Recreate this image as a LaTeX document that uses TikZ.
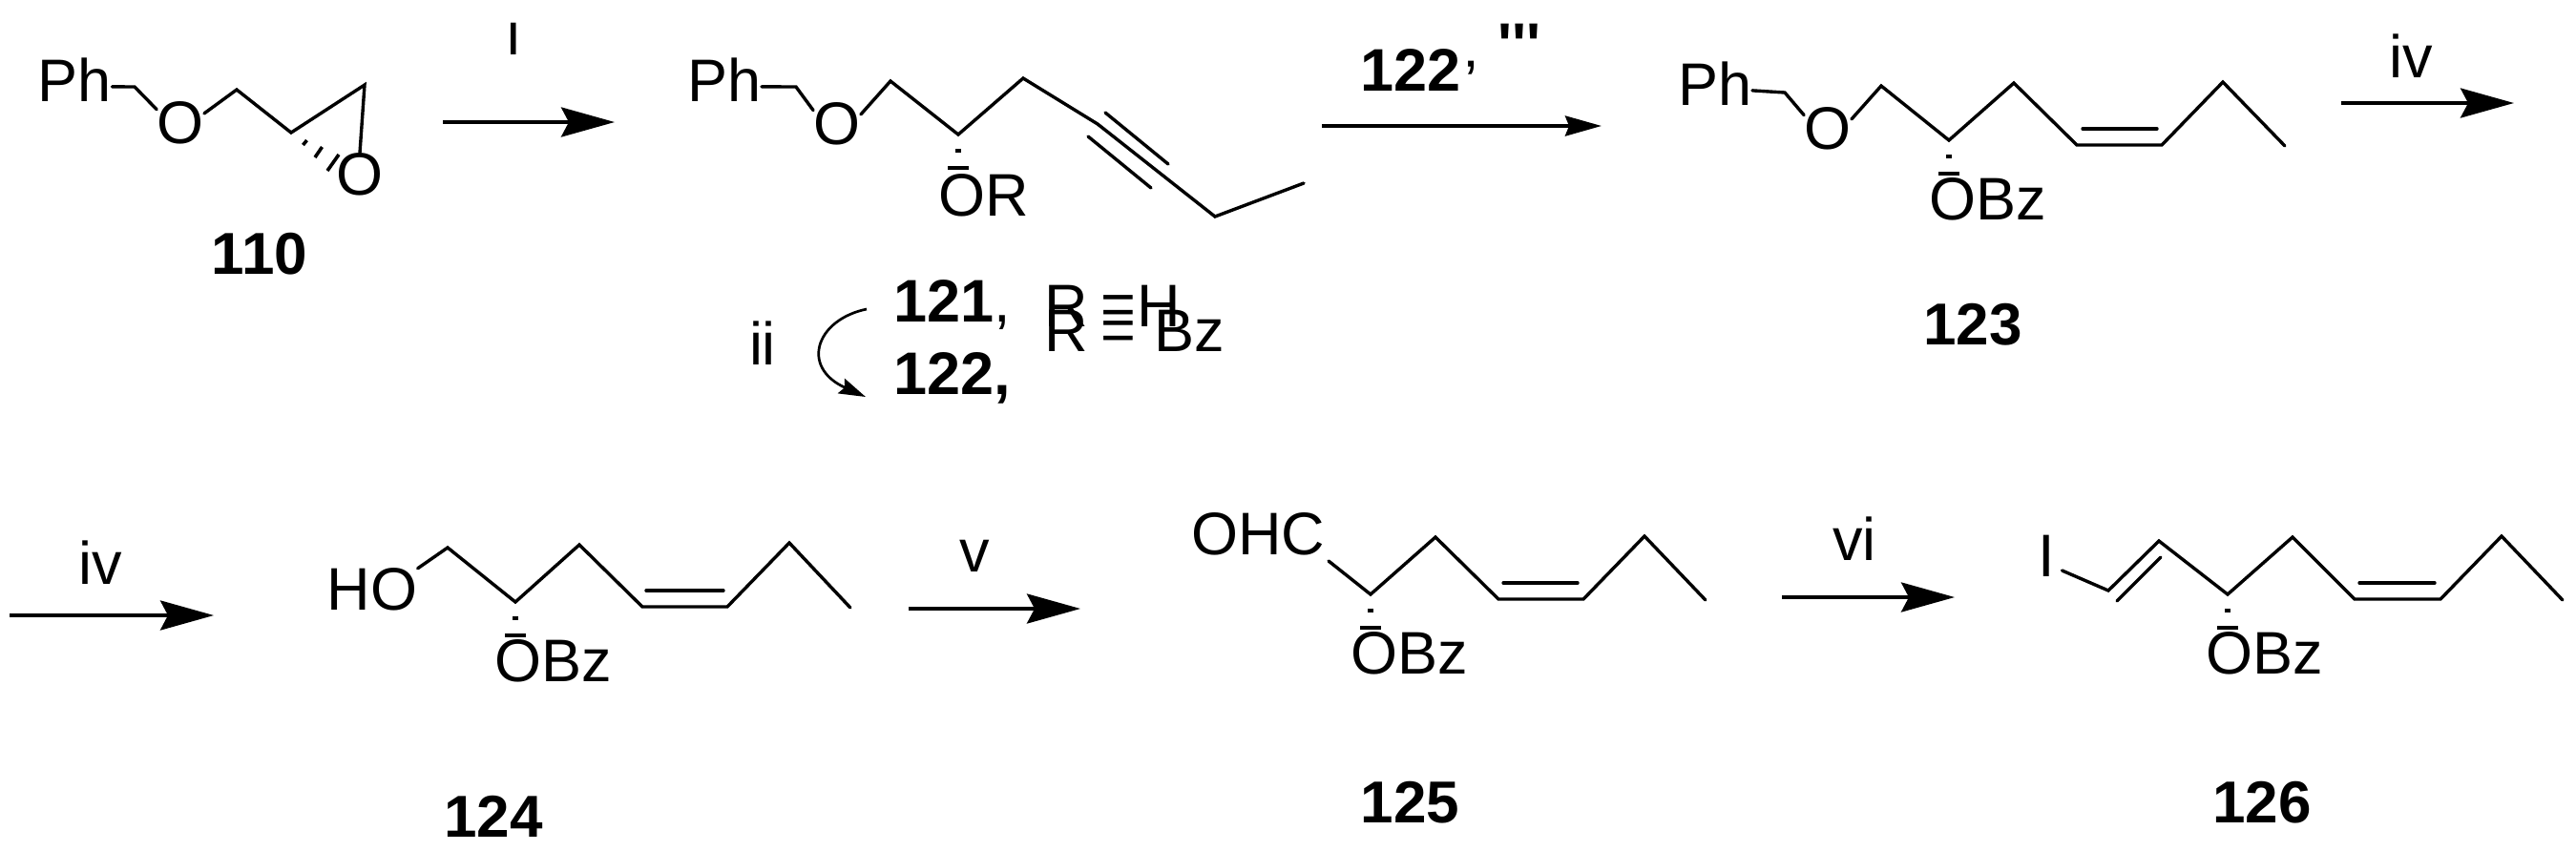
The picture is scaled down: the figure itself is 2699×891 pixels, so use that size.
\documentclass[tikz,border=0pt]{standalone}
\usepackage{fontspec}
\setmainfont{Liberation Sans}
\newfontfamily\rawfont{Liberation Sans}[Ligatures=Discretionary]
\usetikzlibrary{arrows.meta}
\tikzset{
  lab/.style={inner sep=0pt,font=\fontsize{31.5}{36}\selectfont},
  num/.style={inner sep=0pt,font=\fontsize{31}{36}\selectfont\bfseries},
  bond/.style={line width=1.7pt,line cap=round,line join=miter},
  hashbar/.style={line width=1.8pt},
  bigarrow/.style={line width=1.9pt,-{Stealth[length=28pt,width=15.5pt,inset=4pt]}},
  thinarrow/.style={line width=1.9pt,-{Stealth[length=19pt,width=10.5pt,inset=2pt]}},
  curlarrow/.style={line width=1.35pt,-{Stealth[length=14pt,width=8.5pt,inset=2pt]}},
}
\newcommand{\hashw}[1]{%
  \draw[hashbar] (#1) ++(-3,17) -- ++(6,0);
  \draw[hashbar] (#1) ++(-11,35) -- ++(22,0);
}
\begin{document}
\begin{tikzpicture}[x=0.5pt,y=-0.5pt]
\useasboundingbox (0,0) rectangle (2699,891);
\fill[white] (0,0) rectangle (2699,891);

% ---------- 110
\node[lab] (phA) at (78.5,84) {Ph};
\node[lab] (oA) at (189,129) {O};
\node[lab] (oB) at (377,183) {O};
\coordinate (a1) at (141,91);
\coordinate (a2) at (248,94);
\coordinate (a3) at (305,139);
\coordinate (a4) at (382,89);
\draw[bond] (phA.-10) -- (a1) -- (oA.150);
\draw[bond] (oA.22) -- (a2) -- (a3) -- (a4) -- (oB.90);
\draw[hashbar] (317.5,152) -- (321.5,147);
\draw[hashbar] (330,165) -- (337.5,154);
\draw[hashbar] (343,179) -- (355,162);
\node[num] (n110) at (272,266) {110};

% arrow i
\node[lab] (ri) at (538,40.5) {ı};
\coordinate (r1s) at (464,128);
\coordinate (r1e) at (644,128);
\draw[bigarrow] (r1s) -- (r1e);

% ---------- 121/122
\node[lab] (phB) at (759,84) {Ph};
\node[lab] (oC) at (877,130) {O};
\node[lab] (orB) at (1031,204.5) {OR};
\coordinate (b1) at (834,91);
\coordinate (b2) at (933,85);
\coordinate (b3) at (1004,141);
\coordinate (b4) at (1072,82);
\coordinate (b5) at (1150,130);
\coordinate (b6) at (1273,227);
\coordinate (b7) at (1366,192);
\coordinate (t1a) at (1158,118);
\coordinate (t1b) at (1224,172);
\coordinate (t2a) at (1140,143);
\coordinate (t2b) at (1206,197);
\draw[bond] (phB.-10) -- (b1) -- (oC.150);
\draw[bond] (oC.22) -- (b2) -- (b3) -- (b4) -- (b5) -- (b6) -- (b7);
\draw[bond] (t1a) -- (t1b);
\draw[bond] (t2a) -- (t2b);
\hashw{b3}
\node[lab,anchor=base west] (l121) at (936,337) {\textbf{121},};
\node[lab,anchor=base west] (l122) at (936,413) {\textbf{122,}};
\node[lab,anchor=base] (r1) at (1117,342) {R};
\node[lab,anchor=base] (r2) at (1117,368) {R};
\node[lab,anchor=base] (eq1) at (1172,340.5) {=};
\node[lab,anchor=base] (eq2) at (1172,367) {=};
\node[lab,anchor=base] (hh) at (1214,342) {H};
\node[lab,anchor=base] (bz) at (1246,368) {Bz};
\node[lab] (rii) at (799,359.5) {ii};
\coordinate (cs) at (908,324);
\coordinate (ce) at (907,416);
\draw[curlarrow] (cs) .. controls (855,335) and (838,385) .. (ce);

% arrow iii
\node[lab,anchor=base west] (l122p) at (1425,95) {\textbf{122}\kern2pt\raisebox{-6pt}{’}};
\node[lab,anchor=base] (riii) at (1592,68) {\rawfont\bfseries\symbol{39}\symbol{39}\symbol{39}};
\coordinate (r2s) at (1385,132);
\coordinate (r2e) at (1678,132);
\draw[thinarrow] (r2s) -- (r2e);

% ---------- 123
\node[lab] (phC) at (1797,88) {Ph};
\node[lab] (oD) at (1915,135) {O};
\node[lab] (obzC) at (2083,208.5) {OBz};
\coordinate (c1) at (1870,97);
\coordinate (c2) at (1971,90);
\coordinate (c3) at (2042,147);
\coordinate (c4) at (2110,87);
\coordinate (c5) at (2176,152);
\coordinate (c6) at (2265,152);
\coordinate (c7) at (2329,86);
\coordinate (c8) at (2394,153);
\coordinate (c5i) at (2182,135);
\coordinate (c6i) at (2260,135);
\draw[bond] (phC.-10) -- (c1) -- (oD.150);
\draw[bond] (oD.22) -- (c2) -- (c3) -- (c4) -- (c5) -- (c6) -- (c7) -- (c8);
\draw[bond] (c5i) -- (c6i);
\hashw{c3}
\node[num] (n123) at (2067,340) {123};

% arrow iv (top)
\node[lab] (riv) at (2526,58.5) {iv};
\coordinate (r3s) at (2453,108);
\coordinate (r3e) at (2634,108);
\draw[bigarrow] (r3s) -- (r3e);

% arrow iv (bottom)
\node[lab] (rivb) at (105,590) {iv};
\coordinate (r4s) at (10,645);
\coordinate (r4e) at (224,645);
\draw[bigarrow] (r4s) -- (r4e);

% ---------- 124
\node[lab] (ho) at (390,618) {HO};
\node[lab] (obzD) at (580,692.5) {OBz};
\coordinate (d1) at (469,574);
\coordinate (d2) at (540,631);
\coordinate (d3) at (607,571);
\coordinate (d4) at (673,636);
\coordinate (d5) at (762,636);
\coordinate (d6) at (827,569);
\coordinate (d7) at (891,637);
\coordinate (d4i) at (677,619);
\coordinate (d5i) at (758,619);
\draw[bond] (ho.25) -- (d1) -- (d2) -- (d3) -- (d4) -- (d5) -- (d6) -- (d7);
\draw[bond] (d4i) -- (d5i);
\hashw{d2}
\node[num] (n124) at (517,856) {124};

% arrow v
\node[lab] (rv) at (1021.5,582.5) {v};
\coordinate (r5s) at (952,638);
\coordinate (r5e) at (1132,638);
\draw[bigarrow] (r5s) -- (r5e);

% ---------- 125
\node[lab] (ohc) at (1318,560) {OHC};
\node[lab] (obzE) at (1477,685) {OBz};
\coordinate (e0) at (1392,588);
\coordinate (e1) at (1436,623);
\coordinate (e2) at (1504,563);
\coordinate (e3) at (1570,628);
\coordinate (e4) at (1659,628);
\coordinate (e5) at (1723,562);
\coordinate (e6) at (1787,629);
\coordinate (e3i) at (1575,611);
\coordinate (e4i) at (1653,611);
\draw[bond] (e0) -- (e1) -- (e2) -- (e3) -- (e4) -- (e5) -- (e6);
\draw[bond] (e3i) -- (e4i);
\hashw{e1}
\node[num] (n125) at (1477.5,841) {125};

% arrow vi
\node[lab] (rvi) at (1943,565) {vi};
\coordinate (r6s) at (1867,626);
\coordinate (r6e) at (2048,626);
\draw[bigarrow] (r6s) -- (r6e);

% ---------- 126
\node[lab] (iod) at (2144,583) {I};
\node[lab] (obzF) at (2373,685) {OBz};
\coordinate (f0) at (2160.5,598);
\coordinate (f1) at (2209,619);
\coordinate (f2) at (2262,567);
\coordinate (f3) at (2334,623);
\coordinate (f4) at (2402,563);
\coordinate (f5) at (2467,628);
\coordinate (f6) at (2557,628);
\coordinate (f7) at (2621,562);
\coordinate (f8) at (2685,629);
\coordinate (f1i) at (2218,630);
\coordinate (f2i) at (2264,584);
\coordinate (f5i) at (2472,611);
\coordinate (f6i) at (2551,611);
\draw[bond] (f0) -- (f1) -- (f2) -- (f3) -- (f4) -- (f5) -- (f6) -- (f7) -- (f8);
\draw[bond] (f1i) -- (f2i);
\draw[bond] (f5i) -- (f6i);
\hashw{f3}
\node[num] (n126) at (2370,841) {126};
\end{tikzpicture}
\end{document}
